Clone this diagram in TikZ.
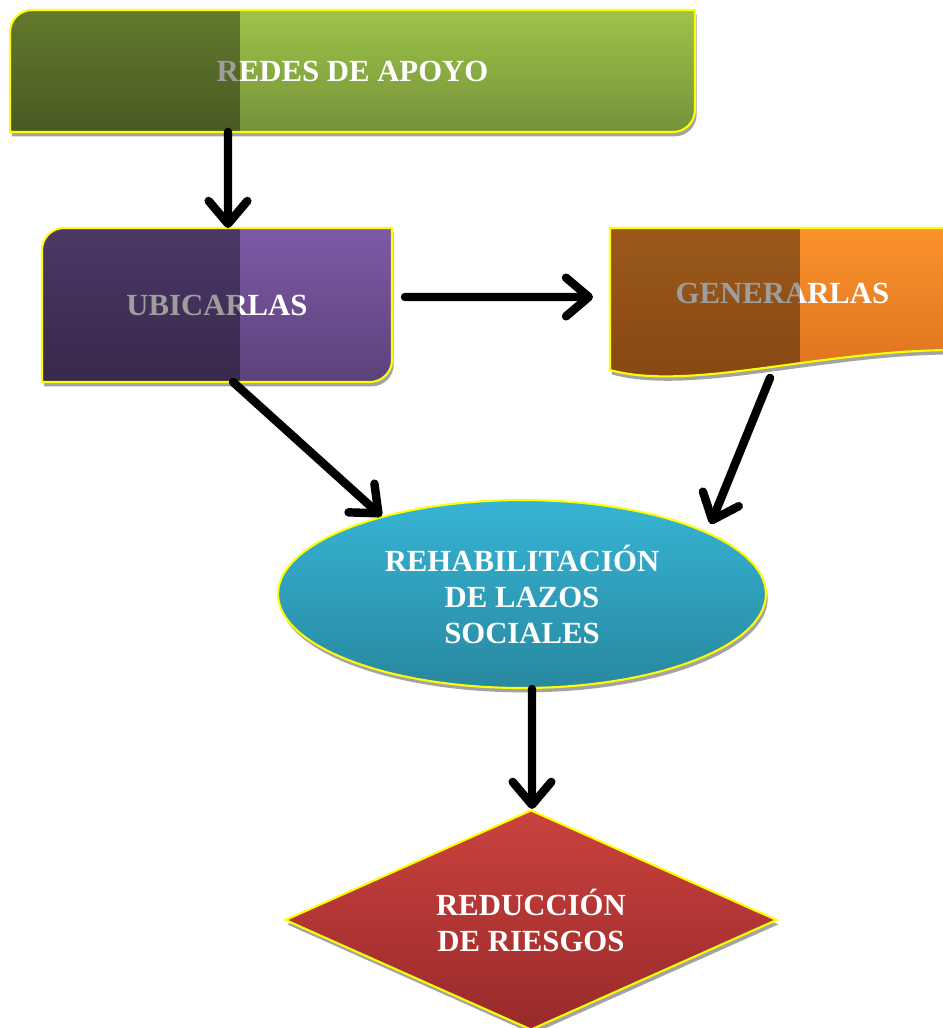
\documentclass[tikz,border=0pt]{standalone}
\usepackage{fontspec}
\setmainfont{Liberation Serif}
\usetikzlibrary{arrows.meta,shapes.geometric,shadows}

\definecolor{greentop}{RGB}{158,196,74}
\definecolor{greenbot}{RGB}{116,146,56}
\definecolor{purpletop}{RGB}{124,90,166}
\definecolor{purplebot}{RGB}{92,66,122}
\definecolor{orangetop}{RGB}{251,146,44}
\definecolor{orangebot}{RGB}{218,112,30}
\definecolor{bluetop}{RGB}{54,180,212}
\definecolor{bluebot}{RGB}{40,136,160}
\definecolor{redtop}{RGB}{202,66,62}
\definecolor{redbot}{RGB}{152,42,42}
\definecolor{rim}{RGB}{255,255,0}

\tikzset{
  box/.style={inner sep=0pt, outer sep=0pt},
  txt/.style={text=white, font=\bfseries\fontsize{17.5}{20.5}\selectfont, align=center, inner sep=0pt},
  shade/.style={drop shadow={shadow xshift=1pt, shadow yshift=-2.5pt, fill=gray!80, opacity=0.9}},
  rimline/.style={draw=rim, line width=1.2pt},
  dim/.style={fill=black, opacity=0.38},
  arr/.style={line width=4.8pt, line cap=round,
    -{Straight Barb[length=13pt, width=22pt, line cap=round, line join=round]}},
}

\begin{document}
\begin{tikzpicture}[x=0.02cm, y=-0.02cm]
\useasboundingbox (0,0) rectangle (943,1028);

% redes de apoyo
\node[box, minimum width=13.7cm, minimum height=2.44cm] (redes) at (352.5,71) {};
\path[shade, top color=greentop, bottom color=greenbot, save path=\redespath]
  ([yshift=-0.44cm]redes.north west) arc[start angle=180, end angle=90, radius=0.44cm]
  -- (redes.north east) -- ([yshift=0.44cm]redes.south east)
  arc[start angle=0, end angle=-90, radius=0.44cm] -- (redes.south west) -- cycle;
\node[txt] (redestxt) at (redes) {REDES DE APOYO};
\begin{scope}
  \clip[use path=\redespath];
  \fill[dim] (redes.north west) rectangle (240,132);
\end{scope}
\path[rimline, use path=\redespath];

% ubicarlas
\node[box, minimum width=7cm, minimum height=3.08cm] (ubic) at (217,305) {};
\path[shade, top color=purpletop, bottom color=purplebot, save path=\ubicpath]
  ([yshift=-0.44cm]ubic.north west) arc[start angle=180, end angle=90, radius=0.44cm]
  -- (ubic.north east) -- ([yshift=0.44cm]ubic.south east)
  arc[start angle=0, end angle=-90, radius=0.44cm] -- (ubic.south west) -- cycle;
\node[txt] (ubictxt) at (ubic) {UBICARLAS};
\begin{scope}
  \clip[use path=\ubicpath];
  \fill[dim] (ubic.north west) rectangle (240,382);
\end{scope}
\path[rimline, use path=\ubicpath];

% generarlas
\node[box, minimum width=6.9cm, minimum height=2.6cm] (gener) at (782.5,293) {};
\path[shade, top color=orangetop, bottom color=orangebot, save path=\generpath]
  (gener.north west) -- (gener.north east) -- (955,350)
  .. controls (820,350) and (690,392) .. (610,370) -- cycle;
\node[txt] (genertxt) at (gener) {GENERARLAS};
\begin{scope}
  \clip[use path=\generpath];
  \fill[dim] (gener.north west) rectangle (800,400);
\end{scope}
\path[rimline, use path=\generpath];

% rehabilitacion
\node[ellipse, shade, top color=bluetop, bottom color=bluebot, rimline, txt,
  minimum width=9.76cm, minimum height=3.76cm] (rehab) at (522,594)
  {REHABILITACIÓN\\DE LAZOS\\SOCIALES};

% reduccion
\node[diamond, aspect=2.24, shade, top color=redtop, bottom color=redbot, rimline, txt,
  minimum width=9.84cm, minimum height=4.4cm] (reduc) at (531,920)
  {REDUCCIÓN\\DE RIESGOS};

% flechas
\draw[arr] ([xshift=-2.49cm]redes.south) -- ([xshift=0.22cm]ubic.north);
\draw[arr] ([xshift=0.26cm, yshift=0.16cm]ubic.east) -- ([xshift=-0.34cm, yshift=-0.08cm]gener.west);
\draw[arr] ([xshift=0.32cm]ubic.south) -- (rehab.151);
\draw[arr] ([xshift=-0.25cm, yshift=-0.4cm]gener.south) -- ([xshift=0.2cm, yshift=0.1cm]rehab.20);
\draw[arr] ([xshift=0.2cm]rehab.south) -- ([xshift=0.02cm]reduc.north);
\end{tikzpicture}
\end{document}
